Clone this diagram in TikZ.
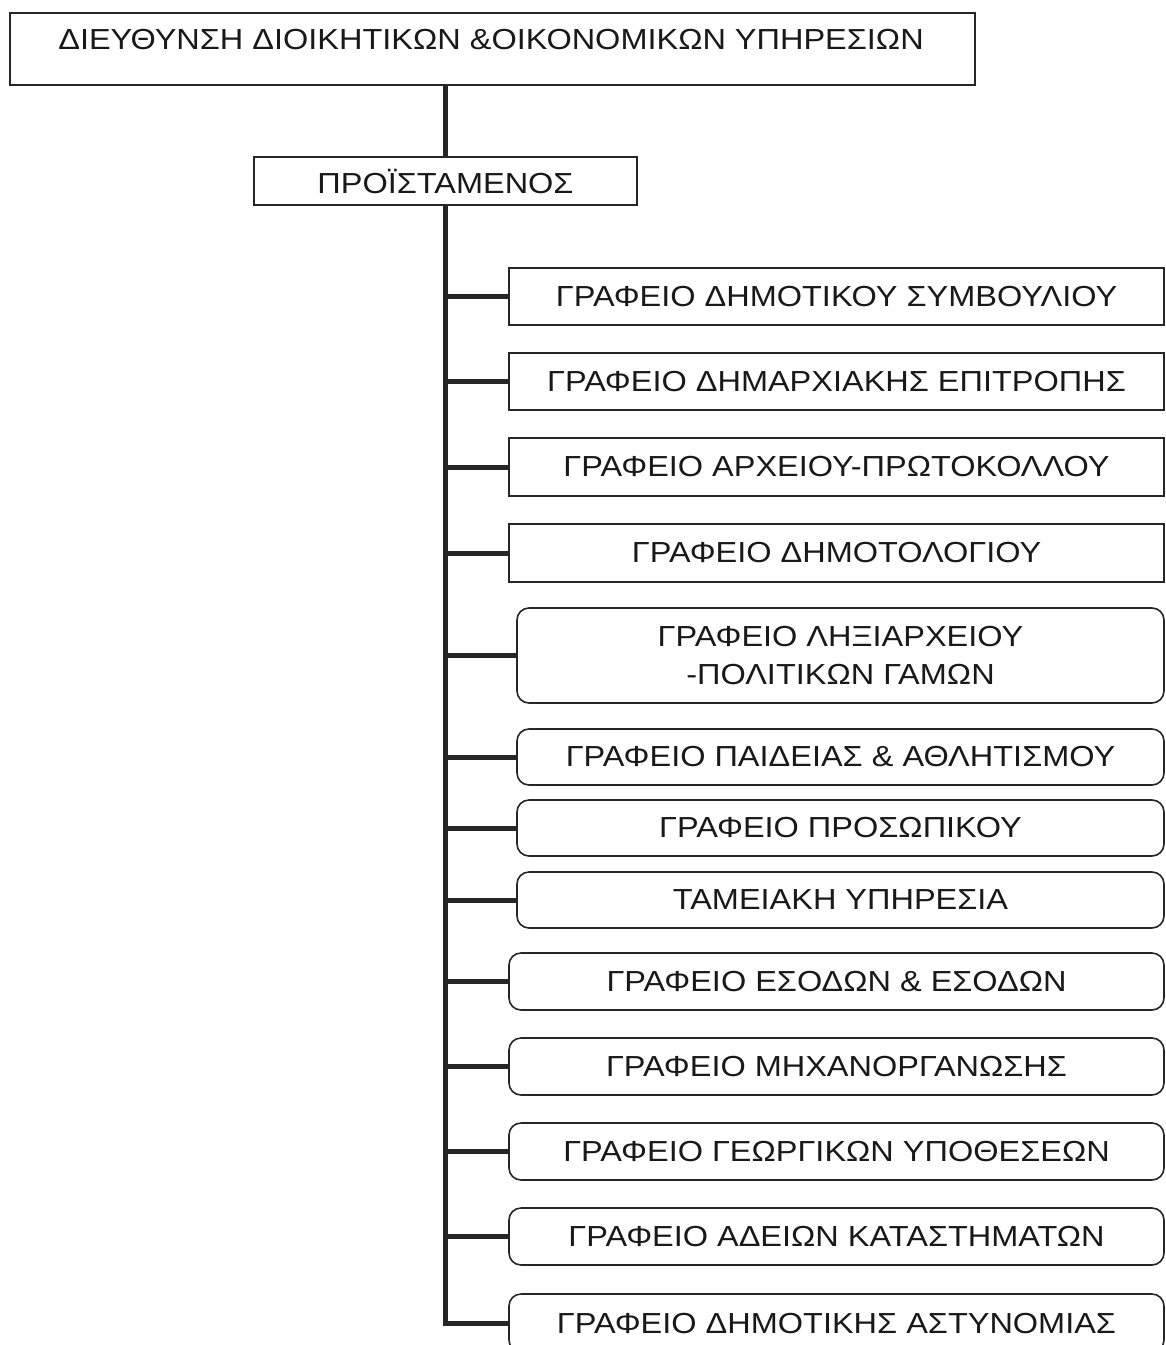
\documentclass[tikz,border=0pt]{standalone}
\usepackage{fontspec}
\setmainfont{Liberation Sans}[FakeStretch=1.12]
\newcommand\fz{\fontsize{29}{38}\selectfont}
\begin{document}
\begin{tikzpicture}[x=1pt,y=-1pt,
  sq/.style={draw=black!85, line width=1.6pt, inner sep=0pt, align=center, font=\fz, text=black!90},
  rnd/.style={sq, rounded corners=12pt},
  trunk/.style={line width=5pt, black!85}]
\useasboundingbox (0,0) rectangle (1166,1345);
\node[sq, minimum width=965, minimum height=72] (top) at (492.5,49) {};
\node[font=\fz, text=black!90] (toptext) at (491,40) {ΔΙΕΥΘΥΝΣΗ ΔΙΟΙΚΗΤΙΚΩΝ \&ΟΙΚΟΝΟΜΙΚΩΝ ΥΠΗΡΕΣΙΩΝ};
\node[sq, minimum width=383, minimum height=48] (pro) at (445.5,181) {ΠΡΟΪΣΤΑΜΕΝΟΣ};
\node[sq, minimum width=655, minimum height=57] (b1) at (836.5,296.5) {ΓΡΑΦΕΙΟ ΔΗΜΟΤΙΚΟΥ ΣΥΜΒΟΥΛΙΟΥ};
\node[sq, minimum width=655, minimum height=57] (b2) at (836.5,381.5) {ΓΡΑΦΕΙΟ ΔΗΜΑΡΧΙΑΚΗΣ ΕΠΙΤΡΟΠΗΣ};
\node[sq, minimum width=655, minimum height=58] (b3) at (836.5,467) {ΓΡΑΦΕΙΟ ΑΡΧΕΙΟΥ-ΠΡΩΤΟΚΟΛΛΟΥ};
\node[sq, minimum width=655, minimum height=58] (b4) at (836.5,553) {ΓΡΑΦΕΙΟ ΔΗΜΟΤΟΛΟΓΙΟΥ};
\node[rnd, minimum width=647, minimum height=95] (b5) at (840.5,655.5) {ΓΡΑΦΕΙΟ ΛΗΞΙΑΡΧΕΙΟΥ\\-ΠΟΛΙΤΙΚΩΝ ΓΑΜΩΝ};
\node[rnd, minimum width=647, minimum height=56] (b6) at (840.5,757) {ΓΡΑΦΕΙΟ ΠΑΙΔΕΙΑΣ \& ΑΘΛΗΤΙΣΜΟΥ};
\node[rnd, minimum width=647, minimum height=56] (b7) at (840.5,828) {ΓΡΑΦΕΙΟ ΠΡΟΣΩΠΙΚΟΥ};
\node[rnd, minimum width=647, minimum height=56] (b8) at (840.5,900) {ΤΑΜΕΙΑΚΗ ΥΠΗΡΕΣΙΑ};
\node[rnd, minimum width=655, minimum height=57] (b9) at (836.5,981.5) {ΓΡΑΦΕΙΟ ΕΣΟΔΩΝ \& ΕΣΟΔΩΝ};
\node[rnd, minimum width=655, minimum height=57] (b10) at (836.5,1066.5) {ΓΡΑΦΕΙΟ ΜΗΧΑΝΟΡΓΑΝΩΣΗΣ};
\node[rnd, minimum width=655, minimum height=57] (b11) at (836.5,1151.5) {ΓΡΑΦΕΙΟ ΓΕΩΡΓΙΚΩΝ ΥΠΟΘΕΣΕΩΝ};
\node[rnd, minimum width=655, minimum height=57] (b12) at (836.5,1236.5) {ΓΡΑΦΕΙΟ ΑΔΕΙΩΝ ΚΑΤΑΣΤΗΜΑΤΩΝ};
\node[rnd, minimum width=655, minimum height=58] (b13) at (836.5,1323) {ΓΡΑΦΕΙΟ ΔΗΜΟΤΙΚΗΣ ΑΣΤΥΝΟΜΙΑΣ};
\draw[trunk] (top.south -| pro.north) -- (pro.north);
\draw[trunk] (pro.south) -- (b13.west -| pro.south) -- (b13.west);
\foreach \b in {b1,b2,b3,b4,b5,b6,b7,b8,b9,b10,b11,b12}
  \draw[trunk] (\b.west -| pro.south) -- (\b.west);
\end{tikzpicture}
\end{document}
